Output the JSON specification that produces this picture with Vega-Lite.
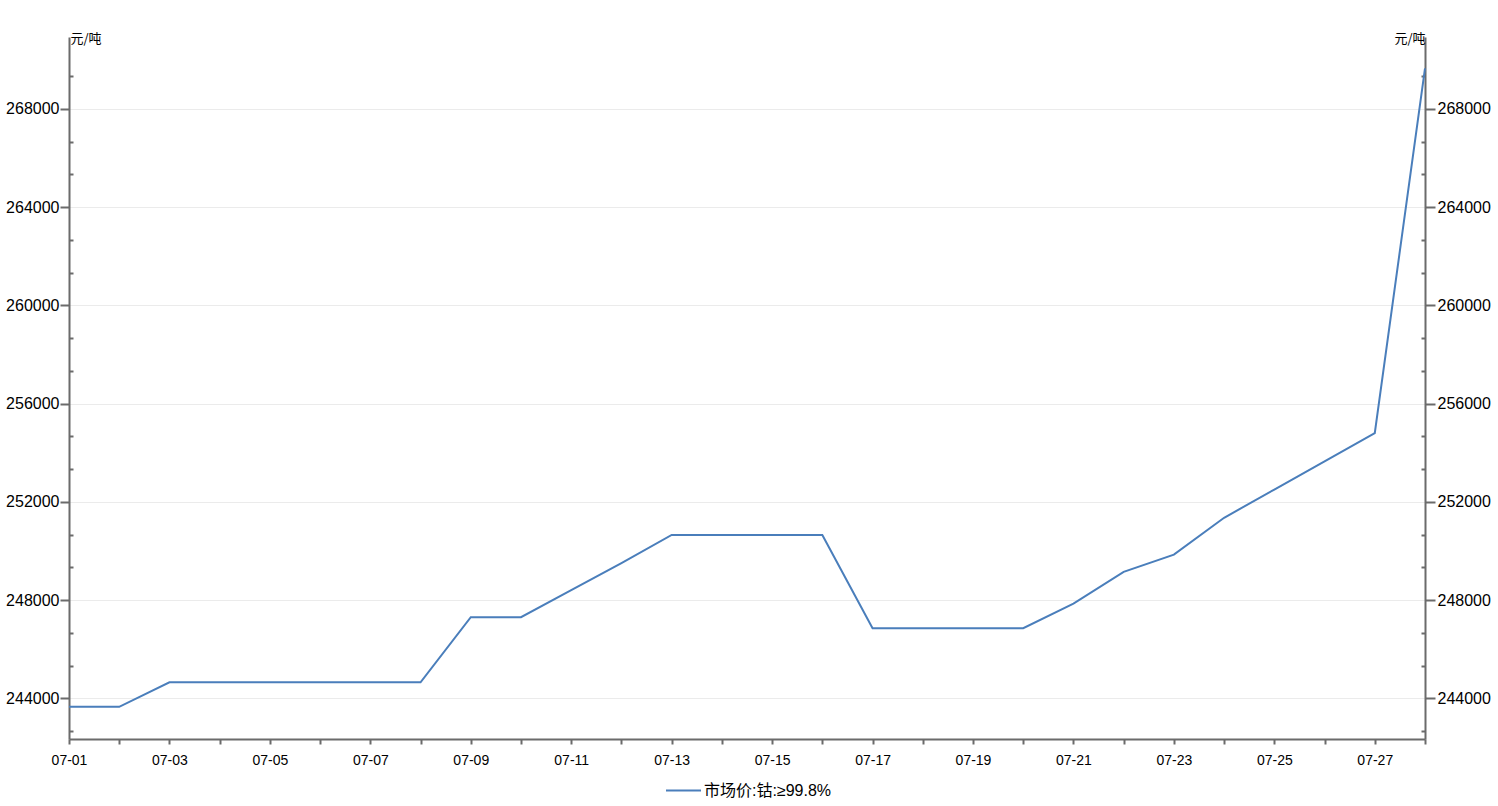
{
  "$schema": "https://vega.github.io/schema/vega-lite/v6.json",
  "width": 1356,
  "height": 702,
  "autosize": {"type": "none"},
  "padding": {"left": 69, "top": 37, "right": 73, "bottom": 67},
  "background": "white",
  "config": {
    "view": {"stroke": null},
    "axis": {
      "domainColor": "#6b6b6b",
      "domainWidth": 2,
      "tickColor": "#6b6b6b",
      "tickWidth": 2,
      "labelColor": "#000000",
      "labelFont": "Liberation Sans, Noto Sans CJK SC"
    }
  },
  "data": {
    "values": [
      {"date": "07-01", "price": 243650, "series": "市场价:钴:≥99.8%"},
      {"date": "07-02", "price": 243650, "series": "市场价:钴:≥99.8%"},
      {"date": "07-03", "price": 244650, "series": "市场价:钴:≥99.8%"},
      {"date": "07-04", "price": 244650, "series": "市场价:钴:≥99.8%"},
      {"date": "07-05", "price": 244650, "series": "市场价:钴:≥99.8%"},
      {"date": "07-06", "price": 244650, "series": "市场价:钴:≥99.8%"},
      {"date": "07-07", "price": 244650, "series": "市场价:钴:≥99.8%"},
      {"date": "07-08", "price": 244650, "series": "市场价:钴:≥99.8%"},
      {"date": "07-09", "price": 247300, "series": "市场价:钴:≥99.8%"},
      {"date": "07-10", "price": 247300, "series": "市场价:钴:≥99.8%"},
      {"date": "07-11", "price": 248400, "series": "市场价:钴:≥99.8%"},
      {"date": "07-12", "price": 249500, "series": "市场价:钴:≥99.8%"},
      {"date": "07-13", "price": 250650, "series": "市场价:钴:≥99.8%"},
      {"date": "07-14", "price": 250650, "series": "市场价:钴:≥99.8%"},
      {"date": "07-15", "price": 250650, "series": "市场价:钴:≥99.8%"},
      {"date": "07-16", "price": 250650, "series": "市场价:钴:≥99.8%"},
      {"date": "07-17", "price": 246850, "series": "市场价:钴:≥99.8%"},
      {"date": "07-18", "price": 246850, "series": "市场价:钴:≥99.8%"},
      {"date": "07-19", "price": 246850, "series": "市场价:钴:≥99.8%"},
      {"date": "07-20", "price": 246850, "series": "市场价:钴:≥99.8%"},
      {"date": "07-21", "price": 247850, "series": "市场价:钴:≥99.8%"},
      {"date": "07-22", "price": 249150, "series": "市场价:钴:≥99.8%"},
      {"date": "07-23", "price": 249850, "series": "市场价:钴:≥99.8%"},
      {"date": "07-24", "price": 251350, "series": "市场价:钴:≥99.8%"},
      {"date": "07-25", "price": 252500, "series": "市场价:钴:≥99.8%"},
      {"date": "07-26", "price": 253650, "series": "市场价:钴:≥99.8%"},
      {"date": "07-27", "price": 254800, "series": "市场价:钴:≥99.8%"},
      {"date": "07-28", "price": 269650, "series": "市场价:钴:≥99.8%"}
    ]
  },
  "layer": [
    {
      "mark": {"type": "line", "strokeWidth": 2},
      "encoding": {
        "x": {
          "field": "date",
          "type": "ordinal",
          "scale": {"type": "point", "padding": 0},
          "axis": {
            "title": null,
            "labelAngle": 0,
            "tickSize": 5,
            "labelPadding": 9,
            "labelFontSize": 14,
            "labelOverlap": false,
            "grid": false,
            "labelExpr": "parseInt(slice(datum.value, 3)) % 2 == 1 ? datum.value : ''"
          }
        },
        "y": {
          "field": "price",
          "type": "quantitative",
          "scale": {"domain": [242340, 270930], "zero": false, "nice": false},
          "axis": {
            "orient": "left",
            "title": "元/吨",
            "titleAngle": 0,
            "titleX": 1,
            "titleY": 1.5,
            "titleAlign": "left",
            "titleBaseline": "middle",
            "titleFont": "Noto Sans CJK SC",
            "titleFontSize": 13,
            "titleFontWeight": "normal",
            "titleColor": "#000000",
            "values": [242666.667, 244000, 245333.333, 246666.667, 248000, 249333.333, 250666.667, 252000, 253333.333, 254666.667, 256000, 257333.333, 258666.667, 260000, 261333.333, 262666.667, 264000, 265333.333, 266666.667, 268000, 269333.333],
            "labelExpr": "abs(datum.value % 4000) < 1 ? format(datum.value, 'd') : ''",
            "labelFontSize": 16,
            "labelPadding": 1,
            "labelOverlap": false,
            "tickSize": {"condition": {"test": "abs(datum.value % 4000) < 1", "value": 9}, "value": -4},
            "grid": true,
            "gridColor": "#ebebeb",
            "gridWidth": 1,
            "gridOpacity": {"condition": {"test": "abs(datum.value % 4000) < 1", "value": 1}, "value": 0}
          }
        },
        "color": {
          "field": "series",
          "type": "nominal",
          "scale": {"range": ["#4a7ebb"]},
          "legend": {
            "title": null,
            "orient": "none",
            "legendX": 596,
            "legendY": 735,
            "padding": 0,
            "symbolType": "stroke",
            "symbolSize": 1225,
            "symbolStrokeWidth": 2,
            "labelFont": "Liberation Sans, Noto Sans CJK SC",
            "labelFontSize": 16,
            "labelColor": "#000000",
            "labelOffset": 2
          }
        }
      }
    },
    {
      "mark": {"type": "line", "opacity": 0},
      "encoding": {
        "x": {"field": "date", "type": "ordinal", "scale": {"type": "point", "padding": 0}},
        "y": {
          "field": "price",
          "type": "quantitative",
          "scale": {"domain": [242340, 270930], "zero": false, "nice": false},
          "axis": {
            "orient": "right",
            "title": "元/吨",
            "titleAngle": 0,
            "titleX": 0,
            "titleY": 1.5,
            "titleAlign": "right",
            "titleBaseline": "middle",
            "titleFont": "Noto Sans CJK SC",
            "titleFontSize": 13,
            "titleFontWeight": "normal",
            "titleColor": "#000000",
            "values": [242666.667, 244000, 245333.333, 246666.667, 248000, 249333.333, 250666.667, 252000, 253333.333, 254666.667, 256000, 257333.333, 258666.667, 260000, 261333.333, 262666.667, 264000, 265333.333, 266666.667, 268000, 269333.333],
            "labelExpr": "abs(datum.value % 4000) < 1 ? format(datum.value, 'd') : ''",
            "labelFontSize": 16,
            "labelPadding": 2,
            "labelOverlap": false,
            "tickSize": {"condition": {"test": "abs(datum.value % 4000) < 1", "value": 10}, "value": -4},
            "grid": false
          }
        }
      }
    }
  ],
  "resolve": {"axis": {"y": "independent"}}
}
